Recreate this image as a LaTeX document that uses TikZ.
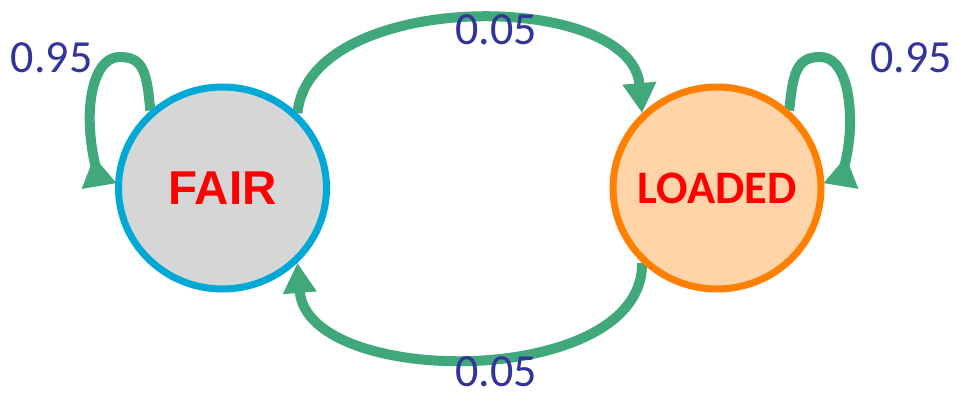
\documentclass[tikz,border=0pt]{standalone}
\usepackage{fontspec}
\setmainfont{Carlito}
\newfontfamily\arialfont{Liberation Sans}
\usetikzlibrary{arrows.meta,shapes.geometric}

\definecolor{edgegreen}{RGB}{64,168,122}
\definecolor{fairborder}{RGB}{0,168,214}
\definecolor{fairfill}{RGB}{214,214,214}
\definecolor{loadborder}{RGB}{255,128,0}
\definecolor{loadfill}{RGB}{255,212,168}
\definecolor{labelblue}{RGB}{51,51,153}

\pgfdeclarelayer{edges}
\pgfsetlayers{edges,main}

\tikzset{
  state/.style={ellipse, draw, line width=7pt, inner sep=0pt,
    minimum width=208pt, minimum height=202pt, text=red},
  transition/.style={draw=edgegreen, line width=10pt,
    -{Triangle[length=30pt,width=32pt]}},
  selfloop/.style={draw=edgegreen, line width=10pt,
    -{Triangle[length=30pt,width=33pt,reversed]}},
  prob/.style={text=labelblue, inner sep=0pt, anchor=base,
    font=\fontsize{46}{50}\selectfont},
}

\begin{document}
\begin{tikzpicture}[x=1pt,y=-1pt]
\useasboundingbox (0,0) rectangle (958,393);

% states (names set in zero-width boxes so the ellipses keep their size)
\node[state, draw=fairborder, fill=fairfill,
      font=\arialfont\bfseries\fontsize{47.5}{50}\selectfont]
      (fair) at (222.5,188) {\makebox[0pt]{FAIR}};
\node[state, draw=loadborder, fill=loadfill,
      font=\bfseries\fontsize{46.6}{50}\selectfont]
      (loaded) at (717,188) {\makebox[0pt]{LOADED}};

% free ends of the self-loops
\coordinate (fairend) at (99,186);
\coordinate (loadedend) at (841,186);

% transitions, drawn beneath the states
\begin{pgfonlayer}{edges}
\draw[transition] (fair.45) .. controls +(12,-124) and +(-11,-124) .. (loaded.135);
\draw[transition] (loaded.225) .. controls +(2,126) and +(10,126) .. (fair.315);
\draw[selfloop] (fair.133) .. controls (147,72) and (143,57) .. (120,57)
  .. controls (96,57) and (88,95) .. (90,128)
  .. controls (91,150) and (96,168) .. (fairend);
\draw[selfloop] (loaded.47) .. controls (793,72) and (797,57) .. (820,57)
  .. controls (844,57) and (851,95) .. (850,128)
  .. controls (849,150) and (844,168) .. (loadedend);
\end{pgfonlayer}

% transition probabilities
\node[prob] (ptop) at (496,45) {0.05};
\node[prob] (pbottom) at (496,386.5) {0.05};
\node[prob] (pleft) at (51.7,72.7) {0.95};
\node[prob] (pright) at (911.3,72.7) {0.95};
\end{tikzpicture}
\end{document}
